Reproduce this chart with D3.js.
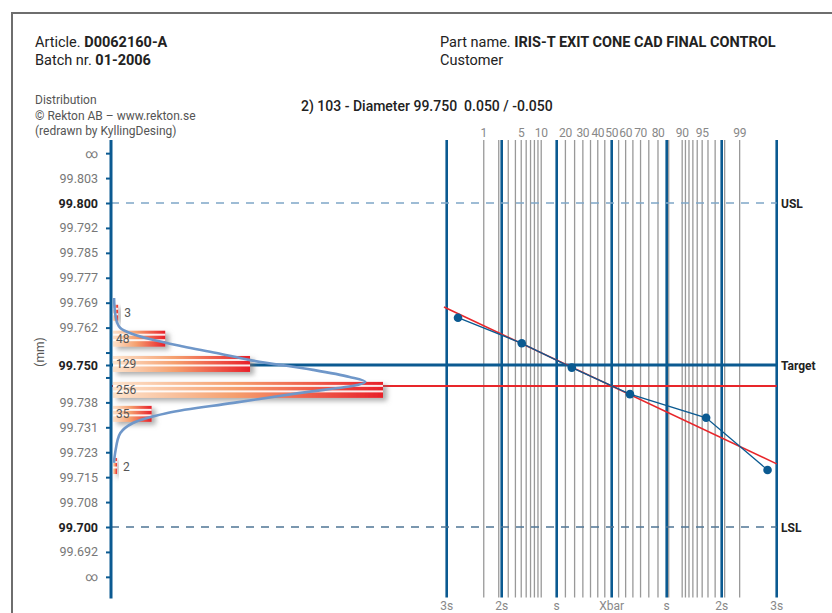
<!DOCTYPE html>
<html>
<head>
<meta charset="utf-8">
<script src="https://cdn.jsdelivr.net/npm/d3@7"></script>
<style>
  html, body { margin: 0; padding: 0; background: #fff; }
  svg { display: block; font-family: Roboto, "Noto Sans", sans-serif; }
  text { white-space: pre; }
</style>
</head>
<body>
<svg id="chart" width="832" height="613"></svg>
<script>
// ---------------- DATA ----------------
const articleNo = "D0062160-A";
const batchNo = "01-2006";
const partName = "IRIS-T EXIT CONE CAD FINAL CONTROL";
const chartTitle = "2) 103 - Diameter 99.750  0.050 / -0.050";
const creditLines = ["Distribution", "© Rekton AB – www.rekton.se", "(redrawn by KyllingDesing)"];

// left axis tick slots (13 slots = 0.100 mm) and their labels
const tickSlots  = [-2, -1, 0, 1, 2, 3, 4, 5, 6, 6.5, 7, 8, 9, 10, 11, 12, 13, 14, 15];
const tickLabels = ["∞","99.692","99.700","99.708","99.715","99.723","99.731","99.738","","99.750","","99.762","99.769","99.777","99.785","99.792","99.800","99.803","∞"];
const boldLabels = ["99.700","99.750","99.800"];

// histogram (bin centre in mm, count)
const binCenters = [99.7655, 99.7575, 99.7497, 99.7417, 99.7343, 99.7182];
const binCounts  = [3, 48, 129, 256, 35, 2];

// fitted distribution curve drawn over the histogram (mm, count-equivalent)
const curveMm    = [99.7707, 99.7660, 99.7630, 99.7614, 99.7599, 99.7580, 99.7557, 99.7537, 99.7515, 99.7485, 99.7463, 99.7448, 99.7438, 99.7414, 99.7383, 99.7352, 99.7321, 99.7290, 99.7228, 99.7198];
const curveCount = [1, 2, 4, 7, 16, 35, 67, 99, 131, 191, 226, 241, 233, 179, 115, 52, 19, 7, 2, 1];

// spec limits
const USL = 99.800, TARGET = 99.750, LSL = 99.700;
const MEAN = 99.7435, SIGMA = 0.0080;

// normal probability paper
const sigmaTicks  = [-3, -2, -1, 0, 1, 2, 3];
const sigmaLabels = ["3s", "2s", "s", "Xbar", "s", "2s", "3s"];
const pctLines    = [1,2,3,4,5,6,7,8,9,10,20,25,30,35,40,45,55,60,65,70,75,80,85,90,91,92,93,94,95,96,97,98,99];
const pctLabels   = [1,5,10,20,30,40,50,60,70,80,90,95,99];

// plotted points: value (mm) and cumulative percentage
const pointMm  = [99.7646, 99.7567, 99.7492, 99.7410, 99.7337, 99.7176];
const pointPct = [0.26, 5.1, 23.4, 63.0, 95.7, 99.77];

// ---------------- HELPERS ----------------
function probit(p) { // inverse normal CDF (Acklam)
  const a=[-3.969683028665376e+01,2.209460984245205e+02,-2.759285104469687e+02,1.383577518672690e+02,-3.066479806614716e+01,2.506628277459239e+00];
  const b=[-5.447609879822406e+01,1.615858368580409e+02,-1.556989798598866e+02,6.680131188771972e+01,-1.328068155288572e+01];
  const c=[-7.784894002430293e-03,-3.223964580411365e-01,-2.400758277161838e+00,-2.549732539343734e+00,4.374664141464968e+00,2.938163982698783e+00];
  const d=[7.784695709041462e-03,3.224671290700398e-01,2.445134137142996e+00,3.754408661907416e+00];
  const pl=0.02425, ph=1-pl; let q, r;
  if (p < pl) { q=Math.sqrt(-2*Math.log(p)); return (((((c[0]*q+c[1])*q+c[2])*q+c[3])*q+c[4])*q+c[5])/((((d[0]*q+d[1])*q+d[2])*q+d[3])*q+1); }
  if (p <= ph) { q=p-0.5; r=q*q; return (((((a[0]*r+a[1])*r+a[2])*r+a[3])*r+a[4])*r+a[5])*q/(((((b[0]*r+b[1])*r+b[2])*r+b[3])*r+b[4])*r+1); }
  q=Math.sqrt(-2*Math.log(1-p)); return -(((((c[0]*q+c[1])*q+c[2])*q+c[3])*q+c[4])*q+c[5])/((((d[0]*q+d[1])*q+d[2])*q+d[3])*q+1);
}

// ---------------- SCALES ----------------
const svg = d3.select("#chart");
const slotY = d3.scaleLinear().domain([0, 13]).range([527, 203]);
const y = d3.scaleLinear().domain([LSL, USL]).range([527, 203]);
const axisX = 111;
const xCount = d3.scaleLinear().domain([0, 256]).range([113, 381]);
const xZ = d3.scaleLinear().domain([-3, 3]).range([446.7, 776.7]);
const topY = 140, botY = 597.5;

const BLUE = "#0b5a91", GRAY = "#999", RED = "#e8262a";

// ---------------- DEFS ----------------
const defs = svg.append("defs");
const grad = defs.append("linearGradient").attr("id", "barGrad").attr("x1", "0").attr("x2", "1").attr("y1", "0").attr("y2", "0");
grad.append("stop").attr("offset", "0").attr("stop-color", "#fde3cc");
grad.append("stop").attr("offset", "0.45").attr("stop-color", "#f59f6e");
grad.append("stop").attr("offset", "1").attr("stop-color", "#e8202a");
const f = defs.append("filter").attr("id", "shadow").attr("x", "-20%").attr("y", "-50%").attr("width", "160%").attr("height", "220%");
f.append("feDropShadow").attr("dx", 4).attr("dy", 3).attr("stdDeviation", 2.5).attr("flood-color", "#777").attr("flood-opacity", 0.6);

// ---------------- FRAME ----------------
svg.append("line").attr("x1", 12).attr("x2", 832).attr("y1", 13).attr("y2", 13).attr("stroke", "#6e6e6e").attr("stroke-width", 2);
svg.append("line").attr("x1", 12).attr("x2", 12).attr("y1", 12).attr("y2", 613).attr("stroke", "#6e6e6e").attr("stroke-width", 2);

// ---------------- HEADER ----------------
function twoPart(x, yy, a, b) {
  const t = svg.append("text").attr("x", x).attr("y", yy).attr("font-size", 14.5).attr("fill", "#222");
  t.append("tspan").text(a);
  t.append("tspan").attr("font-weight", "bold").text(b);
  return t;
}
twoPart(35, 47, "Article. ", articleNo);
twoPart(35, 65, "Batch nr. ", batchNo);
twoPart(440, 47, "Part name. ", partName);
svg.append("text").attr("x", 440).attr("y", 65).attr("font-size", 14.5).attr("fill", "#222").text("Customer");
creditLines.forEach((s, i) => {
  svg.append("text").attr("x", 35).attr("y", 104 + i * 15.5).attr("font-size", 12).attr("fill", "#555").text(s);
});
svg.append("text").attr("x", 301).attr("y", 111).attr("font-size", 14).attr("font-weight", 500).attr("fill", "#222")
  .text(chartTitle.replace(/  /g, " \u00a0"));

// ---------------- PROBABILITY GRID ----------------
const grid = svg.append("g");
grid.selectAll("line.pct").data(pctLines).join("line").attr("class", "pct")
  .attr("x1", d => xZ(probit(d / 100))).attr("x2", d => xZ(probit(d / 100)))
  .attr("y1", topY).attr("y2", botY).attr("stroke", GRAY).attr("stroke-width", 1.3);
grid.selectAll("line.sig").data(sigmaTicks).join("line").attr("class", "sig")
  .attr("x1", d => xZ(d)).attr("x2", d => xZ(d))
  .attr("y1", topY).attr("y2", botY).attr("stroke", BLUE).attr("stroke-width", 2.6);
grid.selectAll("text.pl").data(pctLabels).join("text").attr("class", "pl")
  .attr("x", d => xZ(d === 50 ? 0 : probit(d / 100))).attr("y", 137)
  .attr("text-anchor", "middle").attr("font-size", 12).attr("fill", "#888").attr("letter-spacing", -0.4).text(d => d);
grid.selectAll("text.sl").data(sigmaTicks).join("text").attr("class", "sl")
  .attr("x", d => xZ(d)).attr("y", 610)
  .attr("text-anchor", "middle").attr("font-size", 12).attr("fill", "#888").text((d, i) => sigmaLabels[i]);

// ---------------- HORIZONTAL REFERENCE LINES ----------------
const xEnd = xZ(3);
svg.append("line").attr("x1", axisX).attr("x2", xEnd).attr("y1", y(USL)).attr("y2", y(USL))
  .attr("stroke", "#7fa6c8").attr("stroke-width", 1.3).attr("stroke-dasharray", "8,7");
svg.append("line").attr("x1", axisX).attr("x2", xEnd).attr("y1", y(LSL)).attr("y2", y(LSL))
  .attr("stroke", "#4f7595").attr("stroke-width", 1.3).attr("stroke-dasharray", "8,7");
svg.append("line").attr("x1", axisX).attr("x2", xEnd).attr("y1", y(TARGET)).attr("y2", y(TARGET))
  .attr("stroke", BLUE).attr("stroke-width", 3.2);
svg.append("line").attr("x1", axisX).attr("x2", xEnd).attr("y1", y(MEAN)).attr("y2", y(MEAN))
  .attr("stroke", RED).attr("stroke-width", 2);
[["USL", USL], ["Target", TARGET], ["LSL", LSL]].forEach(([lab, v]) => {
  svg.append("text").attr("x", 781).attr("y", y(v) + 4.5).attr("font-size", 12).attr("font-weight", "bold").attr("fill", "#222").text(lab);
});

// ---------------- LEFT AXIS ----------------
const axis = d3.axisLeft(slotY).tickValues(tickSlots).tickFormat((d, i) => tickLabels[i]).tickSize(5).tickPadding(8);
const ag = svg.append("g").attr("transform", `translate(${axisX},0)`).call(axis);
ag.select(".domain").remove();
ag.selectAll(".tick line").attr("stroke", BLUE).attr("stroke-width", 2);
ag.selectAll(".tick text").attr("font-family", "Roboto, sans-serif").attr("font-size", 12.5)
  .attr("fill", (d, i) => boldLabels.includes(tickLabels[i]) ? "#222" : "#777")
  .attr("font-weight", (d, i) => boldLabels.includes(tickLabels[i]) ? "bold" : "normal");
svg.append("line").attr("x1", axisX).attr("x2", axisX).attr("y1", topY).attr("y2", botY + 1).attr("stroke", BLUE).attr("stroke-width", 3);
svg.append("text").attr("transform", "translate(44,352) rotate(-90)").attr("text-anchor", "middle")
  .attr("font-size", 12).attr("fill", "#555").text("(mm)");

// ---------------- HISTOGRAM ----------------
const barH = 16;
const bars = svg.append("g");
binCenters.forEach((c, i) => {
  const y0 = y(c) - barH / 2 - 2;
  const w = xCount(binCounts[i]) - xCount(0) + 2;
  const g = bars.append("g");
  g.append("rect").attr("x", xCount(0)).attr("y", y0).attr("width", w).attr("height", barH)
    .attr("fill", "url(#barGrad)").attr("filter", "url(#shadow)");
  [[3, 2], [8.5, 2]].forEach(([o, h]) => {
    g.append("rect").attr("x", xCount(0)).attr("y", y0 + o).attr("width", w).attr("height", h).attr("fill", "#fff").attr("opacity", 0.9);
  });
  const inside = binCounts[i] > 20;
  g.append("text").attr("x", inside ? xCount(0) + 3 : xCount(0) + w + 6).attr("y", y0 + barH / 2 + 4.5)
    .attr("font-size", 12).attr("fill", "#555").text(binCounts[i]);
});

// distribution curve
const curvePts = curveMm.map((m, i) => [xCount(curveCount[i]), y(m)]);
svg.append("path").datum(curvePts).attr("d", d3.line().curve(d3.curveCatmullRom.alpha(0.5)))
  .attr("fill", "none").attr("stroke", "#6f97c9").attr("stroke-width", 2.6);

// ---------------- PROBABILITY PLOT ----------------
const fitZ = [-3.05, 3.0];
svg.append("line").attr("x1", xZ(fitZ[0])).attr("y1", y(MEAN - fitZ[0] * SIGMA))
  .attr("x2", xZ(fitZ[1])).attr("y2", y(MEAN - fitZ[1] * SIGMA)).attr("stroke", RED).attr("stroke-width", 1.5);
const pts = pointMm.map((m, i) => [xZ(probit(pointPct[i] / 100)), y(m)]);
svg.append("path").datum(pts).attr("d", d3.line()).attr("fill", "none").attr("stroke", BLUE).attr("stroke-width", 1.3);
svg.selectAll("circle.pt").data(pts).join("circle").attr("class", "pt")
  .attr("cx", d => d[0]).attr("cy", d => d[1]).attr("r", 4.3).attr("fill", BLUE);
</script>
</body>
</html>
